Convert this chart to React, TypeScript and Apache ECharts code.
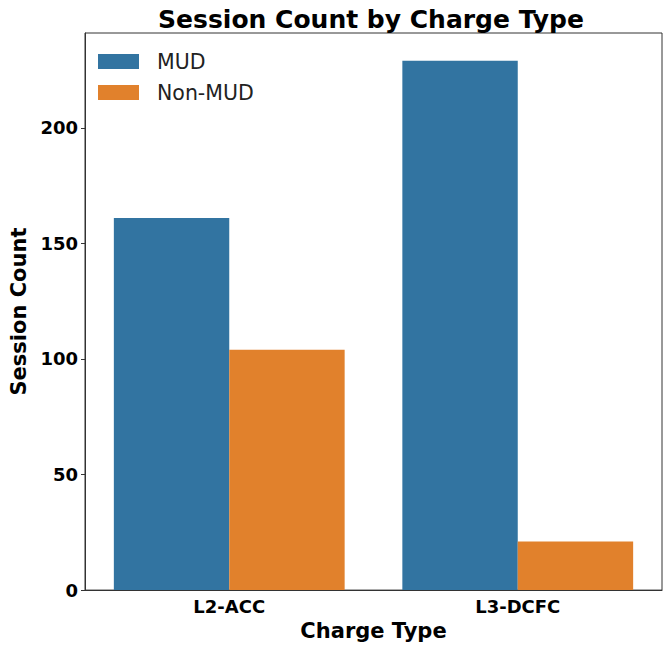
import React, { useEffect, useRef } from "react";
import * as echarts from "echarts";

const categories = ["L2-ACC", "L3-DCFC"];
const seriesNames = ["MUD", "Non-MUD"];
const mudValues = [161, 229];
const nonMudValues = [104, 21];
const yTicks = [0, 50, 100, 150, 200];
const colors = ["#3274a1", "#e1812c"];

export default function App() {
  const ref = useRef<HTMLDivElement>(null);
  useEffect(() => {
    if (!ref.current) return;
    const chart = echarts.init(ref.current, null, { renderer: "svg" });
    const font = "DejaVu Sans";
    chart.setOption({
      animation: false,
      backgroundColor: "#ffffff",
      title: {
        text: "Session Count by Charge Type",
        left: 366,
        top: 2,
        textAlign: "center",
        textStyle: { fontFamily: font, fontWeight: "bold", fontSize: 25, color: "#000" },
      },
      legend: {
        data: seriesNames,
        orient: "vertical",
        left: 98,
        top: 51,
        padding: 0,
        itemWidth: 41,
        itemHeight: 15,
        itemGap: 10,
        icon: "rect",
        textStyle: { fontFamily: font, fontSize: 20.5, color: "#222", padding: [0, 0, 0, 13] },
      },
      grid: {
        left: 85,
        right: 1,
        top: 33,
        bottom: 50,
        show: true,
        borderColor: "#333",
        borderWidth: 1,
      },
      xAxis: {
        type: "category",
        data: categories,
        name: "Charge Type",
        nameLocation: "middle",
        nameGap: 29,
        nameTextStyle: { fontFamily: font, fontWeight: "bold", fontSize: 21, color: "#000" },
        axisLine: { lineStyle: { color: "#333" } },
        axisTick: { alignWithLabel: true, length: 4, lineStyle: { color: "#333" } },
        axisLabel: { fontFamily: font, fontWeight: "bold", fontSize: 18, color: "#000", margin: 7 },
      },
      yAxis: {
        type: "value",
        min: 0,
        max: 241,
        interval: 50,
        name: "Session Count",
        nameLocation: "middle",
        nameGap: 50,
        nameTextStyle: { fontFamily: font, fontWeight: "bold", fontSize: 21, color: "#000" },
        splitLine: { show: false },
        axisLine: { show: true, lineStyle: { color: "#333" } },
        axisTick: { show: true, length: 4, customValues: yTicks, lineStyle: { color: "#333" } },
        axisLabel: {
          fontFamily: font,
          fontWeight: "bold",
          fontSize: 18,
          color: "#000",
          margin: 7,
          customValues: yTicks,
        },
      },
      series: [
        {
          name: seriesNames[0],
          type: "bar",
          data: mudValues,
          barWidth: "40%",
          barGap: "0%",
          itemStyle: { color: colors[0] },
        },
        {
          name: seriesNames[1],
          type: "bar",
          data: nonMudValues,
          barWidth: "40%",
          barGap: "0%",
          itemStyle: { color: colors[1] },
        },
      ],
    });
    return () => chart.dispose();
  }, []);
  return (
    <div
      ref={ref}
      style={{ position: "absolute", left: 0, top: 0, width: 663, height: 646 }}
    />
  );
}
